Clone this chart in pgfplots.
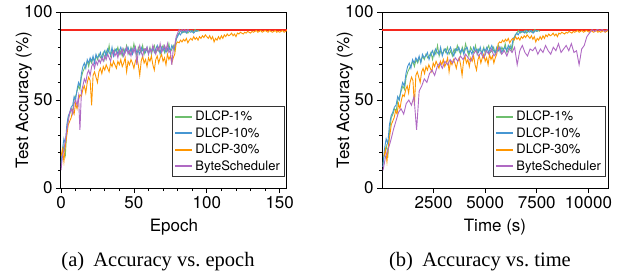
\documentclass[border=0pt]{standalone}
\usepackage{fontspec}
\setmainfont{TeX Gyre Heros}
\newfontfamily\capfont{Liberation Serif}
\usepackage{pgfplots}
\usepackage{pgfplotstable}
\pgfplotsset{compat=1.18}

\definecolor{cgreen}{RGB}{110,190,110}
\definecolor{cblue}{RGB}{70,150,210}
\definecolor{corange}{RGB}{255,150,0}
\definecolor{cpurple}{RGB}{175,105,195}
\definecolor{refred}{RGB}{245,40,30}

% columns: epoch, time (s), accuracy (%)
\pgfplotstableread{
e t a
0 50 14
1 130 20
2 210 24
3 290 19
4 370 33
5 450 40
6 530 42
7 610 45
8 690 44
9 770 50
10 850 52
11 930 55
12 1010 58
13 1090 56
14 1170 63
15 1250 66
16 1330 68
17 1410 70
18 1490 72
19 1570 69
20 1650 73
21 1730 71
22 1810 74
23 1890 72
24 1970 75
25 2050 73
26 2130 76
27 2210 74
28 2290 75
29 2370 77
30 2450 73
31 2530 78
32 2610 76
33 2690 81
34 2770 75
35 2850 78
36 2930 76
37 3010 79
38 3090 77
39 3170 80
40 3250 76
41 3330 78
42 3410 75
43 3490 79
44 3570 77
45 3650 81
46 3730 78
47 3810 76
48 3890 80
49 3970 77
50 4050 82
51 4130 78
52 4210 75
53 4290 80
54 4370 78
55 4450 77
56 4530 81
57 4610 76
58 4690 79
59 4770 78
60 4850 77
61 4930 80
62 5010 76
63 5090 79
64 5170 81
65 5250 77
66 5330 78
67 5410 80
68 5490 76
69 5570 79
70 5650 81
71 5730 77
72 5810 80
73 5890 78
74 5970 82
75 6050 77
76 6130 79
77 6210 81
78 6290 78
79 6370 84
80 6450 87
81 6530 88
82 6610 89.5
83 6690 88
84 6770 89
85 6850 88.5
86 6930 89.5
87 7010 88
88 7090 89
89 7170 89.5
90 7250 88.5
91 7330 89
92 7410 90
93 7490 89
94 7570 89.5
95 7650 89
}\greentab

\pgfplotstableread{
e t a
0 40 12
1 120 22
2 200 28
3 280 25
4 360 36
5 440 41
6 520 43
7 600 46
8 680 47
9 760 52
10 840 50
11 920 56
12 1000 60
13 1080 58
14 1160 65
15 1240 69
16 1320 71
17 1400 68
18 1480 73
19 1560 71
20 1640 74
21 1720 72
22 1800 75
23 1880 71
24 1960 76
25 2040 74
26 2120 75
27 2200 77
28 2280 73
29 2360 76
30 2440 78
31 2520 75
32 2600 79
33 2680 77
34 2760 76
35 2840 80
36 2920 75
37 3000 78
38 3080 79
39 3160 76
40 3240 78
41 3320 80
42 3400 77
43 3480 75
44 3560 79
45 3640 78
46 3720 80
47 3800 77
48 3880 79
49 3960 76
50 4040 79
51 4120 80
52 4200 77
53 4280 78
54 4360 76
55 4440 80
56 4520 78
57 4600 79
58 4680 77
59 4760 80
60 4840 76
61 4920 79
62 5000 78
63 5080 80
64 5160 77
65 5240 79
66 5320 81
67 5400 78
68 5480 77
69 5560 80
70 5640 78
71 5720 80
72 5800 77
73 5880 79
74 5960 80
75 6040 78
76 6120 81
77 6200 79
78 6280 80
79 6360 85
80 6440 86
81 6520 88
82 6600 87
83 6680 89
84 6760 88.5
85 6840 89
86 6920 88
87 7000 89.5
88 7080 89
89 7160 88.5
90 7240 89.5
91 7320 88
92 7400 89
93 7480 89.5
94 7560 89
}\bluetab

\pgfplotstableread{
e t a
0 100 18
1 170 22
2 240 15
3 310 24
4 380 30
5 450 36
6 520 38
7 590 40
8 660 44
9 730 42
10 800 48
11 870 45
12 940 50
13 1010 53
14 1080 52
15 1150 56
16 1220 58
17 1290 54
18 1360 60
19 1430 63
20 1500 61
21 1570 47
22 1640 64
23 1710 66
24 1780 63
25 1850 60
26 1920 66
27 1990 68
28 2060 65
29 2130 69
30 2200 67
31 2270 70
32 2340 68
33 2410 66
34 2480 71
35 2550 69
36 2620 72
37 2690 70
38 2760 68
39 2830 72
40 2900 70
41 2970 73
42 3040 69
43 3110 71
44 3180 74
45 3250 66
46 3320 72
47 3390 70
48 3460 73
49 3530 71
50 3600 68
51 3670 72
52 3740 74
53 3810 70
54 3880 64
55 3950 72
56 4020 75
57 4090 71
58 4160 73
59 4230 69
60 4300 74
61 4370 72
62 4440 75
63 4510 70
64 4580 67
65 4650 73
66 4720 75
67 4790 71
68 4860 74
69 4930 76
70 5000 72
71 5070 74
72 5140 70
73 5210 76
74 5280 73
75 5350 75
76 5420 71
77 5490 74
78 5560 76
79 5630 82
80 5700 83
81 5770 82.5
82 5840 84
83 5910 83
84 5980 84.5
85 6050 83.5
86 6120 85
87 6190 82.5
88 6260 84
89 6330 85
90 6400 84
91 6470 86
92 6540 84.5
93 6610 85.5
94 6680 84
95 6750 86
96 6820 85
97 6890 86.5
98 6960 85.5
99 7030 87
100 7100 86
101 7170 85
102 7240 86.5
103 7310 84.5
104 7380 86
105 7450 83
106 7520 85
107 7590 84
108 7660 86
109 7730 84.5
110 7800 86.5
111 7870 85
112 7940 87
113 8010 86
114 8080 87.5
115 8150 86.5
116 8220 87
117 8290 88
118 8360 86.5
119 8430 87.5
120 8500 86
121 8570 88
122 8640 87.5
123 8710 88.5
124 8780 88
125 8850 87.5
126 8920 88.5
127 8990 88
128 9060 89
129 9130 88.5
130 9200 88
131 9270 89
132 9340 88.5
133 9410 89
134 9480 89.5
135 9550 88.5
136 9620 89
137 9690 89.5
138 9760 88.5
139 9830 89
140 9900 89.5
141 9970 89
142 10040 88.5
143 10110 89.5
144 10180 89
145 10250 88.5
146 10320 89
147 10390 89.5
148 10460 88.5
149 10530 89
150 10600 88.5
151 10670 89
152 10740 89.5
153 10810 88.5
154 10880 89
155 10950 89.5
}\orangetab

\pgfplotstableread{
e t a
0 50 10
1 175 18
2 300 22
3 425 27
4 550 33
5 675 38
6 800 43
7 925 45
8 1050 42
9 1175 48
10 1300 50
11 1425 47
12 1550 52
13 1675 33
14 1800 55
15 1925 58
16 2050 62
17 2175 60
18 2300 65
19 2425 67
20 2550 64
21 2675 69
22 2800 71
23 2925 68
24 3050 72
25 3175 70
26 3300 73
27 3425 71
28 3550 74
29 3675 72
30 3800 75
31 3925 73
32 4050 76
33 4175 74
34 4300 72
35 4425 76
36 4550 78
37 4675 75
38 4800 77
39 4925 74
40 5050 78
41 5175 76
42 5300 79
43 5425 75
44 5550 77
45 5675 80
46 5800 76
47 5925 78
48 6050 75
49 6175 79
50 6300 77
51 6425 80
52 6550 70
53 6675 78
54 6800 81
55 6925 77
56 7050 75
57 7175 79
58 7300 78
59 7425 80
60 7550 76
61 7675 79
62 7800 77
63 7925 81
64 8050 78
65 8175 76
66 8300 80
67 8425 78
68 8550 82
69 8675 77
70 8800 79
71 8925 81
72 9050 78
73 9175 82
74 9300 77
75 9425 78
76 9550 70
77 9675 79
78 9800 81
79 9925 86
80 10050 88
81 10175 90
82 10300 89
83 10425 90
84 10550 89.5
85 10675 90
86 10800 89
87 10925 90
88 11050 89.5
}\purpletab

\pgfplotsset{
  myaxis/.style={
    scale only axis, width=226pt, height=176pt, anchor=south west,
    ymin=0, ymax=100, ytick={0,50,100}, minor y tick num=4,
    tick align=outside, major tick length=5pt, minor tick length=3pt,
    axis line style={line width=1pt},
    every tick/.style={black, line width=0.8pt},
    tick pos=left,
    tick label style={font=\fontsize{17}{20}\selectfont},
    label style={font=\fontsize{17}{20}\selectfont},
    /pgf/number format/assume math mode=true,
    /pgf/number format/1000 sep={},
    ylabel={Test Accuracy (\%)},
    ylabel style={at={(axis description cs:-0.165,0.5)}, anchor=center},
    xlabel style={at={(axis description cs:0.5,-0.22)}, anchor=center},
    legend style={font=\fontsize{13}{16}\selectfont, at={(axis description cs:0.99,0.065)}, anchor=south east, draw=black!80, line width=0.8pt, row sep=1.2pt, inner sep=2.5pt},
    legend image post style={line width=2pt},
    legend cell align=left,
    every axis plot/.append style={line width=0.9pt},
  }
}

\begin{document}
\begin{tikzpicture}
\useasboundingbox (0pt,0pt) rectangle (619pt,277pt);
\begin{axis}[myaxis, at={(61pt,89pt)},
  xmin=0, xmax=155, xtick={0,50,100,150}, minor x tick num=4,
  xlabel={Epoch}]
\addplot[draw=refred, line width=2pt, forget plot] coordinates {(0,90) (155,90)};
\addplot[cgreen] table[x=e,y=a] {\greentab};
\addlegendentry{DLCP-1\%}
\addplot[cblue] table[x=e,y=a] {\bluetab};
\addlegendentry{DLCP-10\%}
\addplot[corange] table[x=e,y=a] {\orangetab};
\addlegendentry{DLCP-30\%}
\addplot[cpurple] table[x=e,y=a] {\purpletab};
\addlegendentry{ByteScheduler}
\end{axis}
\begin{axis}[myaxis, at={(382pt,89pt)},
  xmin=0, xmax=10950, xtick={2500,5000,7500,10000}, scaled x ticks=false,
  xlabel={Time (s)}]
\addplot[draw=refred, line width=2pt, forget plot] coordinates {(0,90) (10950,90)};
\addplot[cgreen] table[x=t,y=a] {\greentab};
\addlegendentry{DLCP-1\%}
\addplot[cblue] table[x=t,y=a] {\bluetab};
\addlegendentry{DLCP-10\%}
\addplot[corange] table[x=t,y=a] {\orangetab};
\addlegendentry{DLCP-30\%}
\addplot[cpurple] table[x=t,y=a] {\purpletab};
\addlegendentry{ByteScheduler}
\end{axis}
\node[font=\capfont\fontsize{20.5}{24}\selectfont, anchor=center] at (158pt,15pt) {(a)\hspace{0.45em}Accuracy vs.\ epoch};
\node[font=\capfont\fontsize{20.5}{24}\selectfont, anchor=center] at (480pt,15pt) {(b)\hspace{0.45em}Accuracy vs.\ time};
\end{tikzpicture}
\end{document}
